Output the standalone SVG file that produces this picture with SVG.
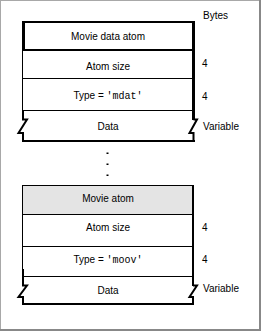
<svg xmlns="http://www.w3.org/2000/svg" width="262" height="332" viewBox="0 0 262 332">
<style>
text{font-family:"Liberation Sans",Arial,sans-serif;font-size:10px;fill:#000}
.c{text-anchor:middle}
.mono{font-family:"Liberation Mono","Courier New",monospace}
.thin{stroke:#000;stroke-width:1;fill:none}
.thick{stroke:#000;stroke-width:2;fill:none}
.blk{fill:#000}
</style>
<rect x="0" y="0" width="262" height="332" fill="#fff"/>
<!-- frame -->
<rect x="0" y="0" width="261" height="1" fill="#a8a8a8"/>
<rect x="0" y="0" width="1" height="331" fill="#a8a8a8"/>
<rect x="259" y="0" width="2" height="331" fill="#888"/>
<rect x="0" y="329" width="261" height="2" fill="#888"/>

<text x="203" y="18.5">Bytes</text>

<!-- Movie data atom -->
<g id="mdat-atom">
  <g id="mdat-header">
    <rect class="blk" x="22" y="21" width="173" height="2"/>
    <rect class="blk" x="22" y="21" width="3" height="30"/>
    <rect class="blk" x="22" y="49" width="173" height="2"/>
    <text class="c" x="108" y="39.5">Movie data atom</text>
  </g>
  <g id="mdat-size">
    <line class="thin" x1="22.5" y1="51" x2="22.5" y2="79"/>
    <line class="thin" x1="22" y1="78.5" x2="193" y2="78.5"/>
    <text class="c" x="108" y="70">Atom size</text>
    <text x="202" y="67">4</text>
  </g>
  <g id="mdat-type">
    <line class="thin" x1="22.5" y1="78" x2="22.5" y2="111"/>
    <line class="thin" x1="22" y1="110.5" x2="193" y2="110.5"/>
    <text class="c" x="108" y="99">Type = <tspan class="mono">'mdat'</tspan></text>
    <text x="202" y="100">4</text>
  </g>
  <g id="mdat-data">
    <path class="thick" d="M23,110 V119.5 H27 L18.5,133 H23 V141"/>
    <path class="thick" d="M193.5,119.5 H197 L189.5,133 H193.5 V141"/>
    <rect class="blk" x="22" y="140" width="173" height="2"/>
    <text class="c" x="108" y="130">Data</text>
    <text x="203" y="129.5">Variable</text>
  </g>
  <rect class="blk" x="192" y="21" width="3" height="99"/>
</g>

<!-- ellipsis -->
<g id="connectors">
  <rect class="blk" x="106.5" y="152.5" width="2" height="1.5"/>
  <rect class="blk" x="106.5" y="163.5" width="2" height="1.5"/>
  <rect class="blk" x="106.5" y="174.5" width="2" height="1.5"/>
</g>

<!-- Movie atom -->
<g id="moov-atom">
  <g id="moov-header">
    <rect x="22.5" y="185.5" width="170" height="29" fill="#e4e4e4" stroke="#000" stroke-width="1"/>
    <text class="c" x="108" y="202">Movie atom</text>
  </g>
  <g id="moov-size">
    <line class="thin" x1="22.5" y1="214" x2="22.5" y2="247"/>
    <line class="thin" x1="22" y1="246.5" x2="193" y2="246.5"/>
    <text class="c" x="108" y="231">Atom size</text>
    <text x="202" y="231">4</text>
  </g>
  <g id="moov-type">
    <line class="thin" x1="22.5" y1="246" x2="22.5" y2="270"/>
    <line class="thick" x1="23" y1="269" x2="23" y2="277"/>
    <line class="thin" x1="22" y1="276.5" x2="193" y2="276.5"/>
    <text class="c" x="108" y="263">Type = <tspan class="mono">'moov'</tspan></text>
    <text x="202" y="263">4</text>
  </g>
  <g id="moov-data">
    <path class="thick" d="M23,276 V285.5 H27 L18.5,297 H23 V304"/>
    <path class="thick" d="M193,285.5 H197 L189.5,297 H193 V304"/>
    <rect class="blk" x="22" y="303" width="172" height="2"/>
    <text class="c" x="108" y="294">Data</text>
    <text x="203" y="292">Variable</text>
  </g>
  <rect class="blk" x="192" y="185" width="2" height="101"/>
</g>
</svg>
